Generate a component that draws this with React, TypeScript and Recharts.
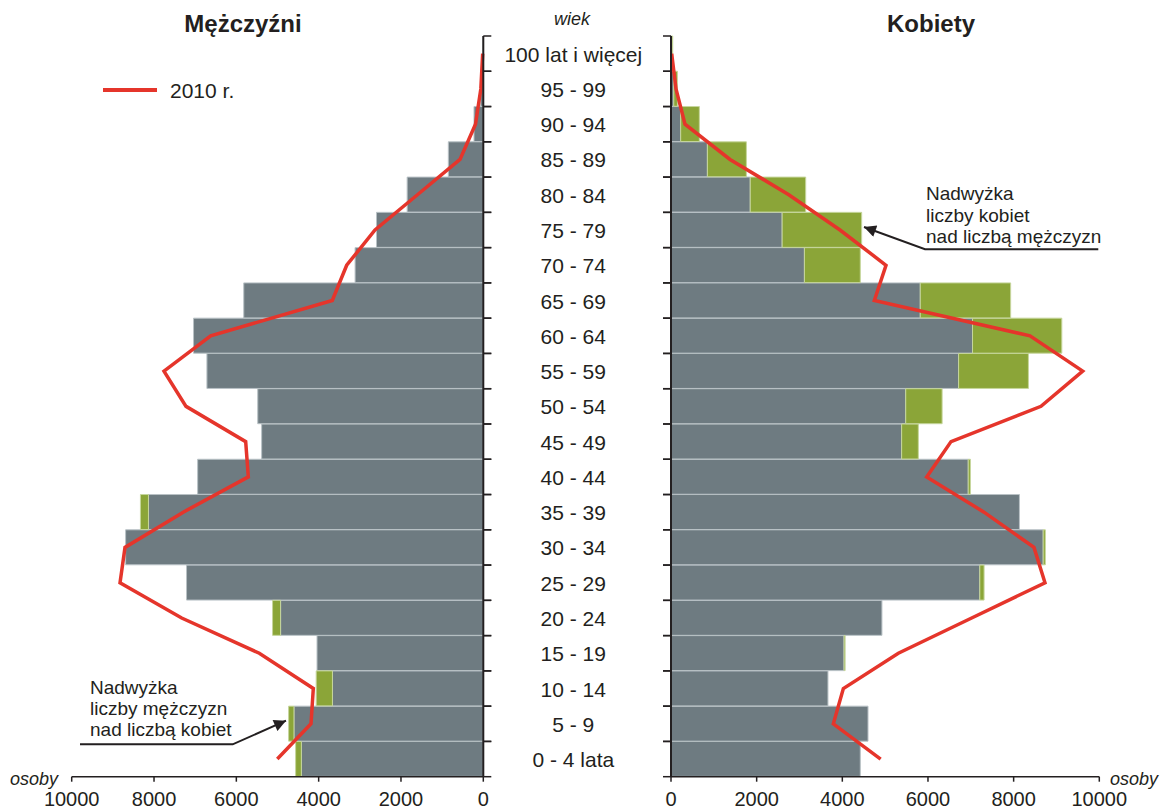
import React from 'react';
import { ComposedChart, Bar, Line, XAxis, YAxis } from 'recharts';

// age groups, youngest first
const ages = [
  '0 - 4 lata', '5 - 9', '10 - 14', '15 - 19', '20 - 24', '25 - 29', '30 - 34',
  '35 - 39', '40 - 44', '45 - 49', '50 - 54', '55 - 59', '60 - 64', '65 - 69',
  '70 - 74', '75 - 79', '80 - 84', '85 - 89', '90 - 94', '95 - 99', '100 lat i więcej',
];
const male = [4560, 4730, 4060, 4040, 5120, 7210, 8690, 8330, 6940, 5385, 5480, 6715, 7040, 5820, 3115, 2595, 1850, 850, 226, 65, 5];
const female = [4420, 4600, 3665, 4065, 4925, 7310, 8740, 8135, 6990, 5775, 6330, 8345, 9125, 7930, 4420, 4452, 3145, 1760, 662, 150, 40];
const male2010 = [5005, 4186, 4130, 5442, 7328, 8826, 8705, 7290, 5709, 5773, 7223, 7758, 6623, 3669, 3319, 2631, 1600, 566, 190, 60, 15];
const female2010 = [4895, 3790, 4024, 5308, 7020, 8732, 8475, 7308, 5970, 6538, 8639, 9612, 8382, 4748, 5020, 3946, 2750, 1378, 327, 117, 16];
const xTicks = [0, 2000, 4000, 6000, 8000, 10000];

const GRAY = '#6e7b81';
const GREEN = '#8ba538';
const RED = '#e5352b';
const INK = '#231f20';
const FONT = '"Liberation Sans", Arial, sans-serif';

// gray = smaller of the two sexes, green = surplus on the larger side
const rows = ages.map((age, i) => ({
  age,
  common: Math.min(male[i], female[i]),
  mExtra: Math.max(male[i] - female[i], 0),
  fExtra: Math.max(female[i] - male[i], 0),
  m2010: male2010[i],
  f2010: female2010[i],
}));

function AgeTick(props: any) {
  const { x, y, payload, side, showLabel } = props;
  const half = payload && payload.offset ? payload.offset : 17.6;
  const dir = side === 'right' ? 1 : -1;
  return (
    <g>
      <line x1={x} x2={x + 8 * dir} y1={y - half} y2={y - half} stroke={INK} strokeWidth={1.5} />
      <line x1={x} x2={x + 8 * dir} y1={y + half} y2={y + half} stroke={INK} strokeWidth={1.5} />
      {showLabel && (
        <text x={x + 90} y={y} dy="0.38em" textAnchor="middle" fontSize={21} fill={INK} fontFamily={FONT}>
          {payload.value}
        </text>
      )}
    </g>
  );
}

const axisStyle = { stroke: INK, strokeWidth: 1.5 };
const tickText = { fontSize: 20, fill: INK, fontFamily: FONT };

export default function App() {
  return (
    <div style={{ position: 'absolute', left: 0, top: 0, width: 1165, height: 812, background: '#fff', fontFamily: FONT }}>
      <div style={{ position: 'absolute', left: 0, top: 0 }}>
        <ComposedChart
          width={660}
          height={812}
          layout="vertical"
          data={rows}
          margin={{ top: 36, right: 175.7, bottom: 5.3, left: 71.7 }}
          barCategoryGap={0}
          barGap={0}
        >
          <XAxis type="number" domain={[0, 10000]} ticks={xTicks} reversed height={30} interval={0}
            tickSize={5} tickMargin={10} axisLine={axisStyle} tickLine={axisStyle} tick={tickText} />
          <YAxis type="category" dataKey="age" orientation="right" reversed width={1} interval={0}
            tickSize={0} tickMargin={0} tickLine={false} axisLine={{ stroke: INK, strokeWidth: 2 }}
            tick={<AgeTick side="right" showLabel />} />
          <Bar dataKey="common" stackId="m" fill={GRAY} stroke="#b9c2c6" strokeWidth={1} isAnimationActive={false} />
          <Bar dataKey="mExtra" stackId="m" fill={GREEN} stroke="#c6d69c" strokeWidth={1} isAnimationActive={false} />
          <Line dataKey="m2010" type="linear" stroke={RED} strokeWidth={3.5} dot={false} isAnimationActive={false} />
        </ComposedChart>
      </div>
      <div style={{ position: 'absolute', left: 600, top: 0 }}>
        <ComposedChart
          width={565}
          height={812}
          layout="vertical"
          data={rows}
          margin={{ top: 36, right: 65.7, bottom: 5.3, left: 70 }}
          barCategoryGap={0}
          barGap={0}
        >
          <XAxis type="number" domain={[0, 10000]} ticks={xTicks} height={30} interval={0}
            tickSize={5} tickMargin={10} axisLine={axisStyle} tickLine={axisStyle} tick={tickText} />
          <YAxis type="category" dataKey="age" orientation="left" reversed width={1} interval={0}
            tickSize={0} tickMargin={0} tickLine={false} axisLine={{ stroke: INK, strokeWidth: 2 }}
            tick={<AgeTick side="left" />} />
          <Bar dataKey="common" stackId="f" fill={GRAY} stroke="#b9c2c6" strokeWidth={1} isAnimationActive={false} />
          <Bar dataKey="fExtra" stackId="f" fill={GREEN} stroke="#c6d69c" strokeWidth={1} isAnimationActive={false} />
          <Line dataKey="f2010" type="linear" stroke={RED} strokeWidth={3.5} dot={false} isAnimationActive={false} />
        </ComposedChart>
      </div>

      <svg width={1165} height={812} style={{ position: 'absolute', left: 0, top: 0, pointerEvents: 'none' }}>
        <defs>
          <marker id="arr" viewBox="0 0 10 10" refX="10" refY="5" markerWidth="15" markerHeight="12"
            markerUnits="userSpaceOnUse" orient="auto">
            <path d="M0,0 L10,5 L0,10 z" fill={INK} />
          </marker>
        </defs>
        <g fontFamily={FONT} fill={INK}>
          <text x={243} y={32} textAnchor="middle" fontSize={24} fontWeight="bold">Mężczyźni</text>
          <text x={931} y={32} textAnchor="middle" fontSize={24} fontWeight="bold">Kobiety</text>
          <text x={572} y={25} textAnchor="middle" fontSize={18} fontStyle="italic">wiek</text>
          <text x={10} y={785} fontSize={18} fontStyle="italic">osoby</text>
          <text x={1110} y={785} fontSize={18} fontStyle="italic">osoby</text>

          <line x1={103} x2={157} y1={90} y2={90} stroke={RED} strokeWidth={4} />
          <text x={170} y={97.5} fontSize={21}>2010 r.</text>

          <text x={90} y={694} fontSize={19}>Nadwyżka</text>
          <text x={90} y={715} fontSize={19}>liczby mężczyzn</text>
          <text x={90} y={736} fontSize={19}>nad liczbą kobiet</text>
          <polyline points="80,744.3 232.7,744.3 286,720.7" fill="none" stroke={INK} strokeWidth={2} markerEnd="url(#arr)" />

          <text x={926} y={200} fontSize={19}>Nadwyżka</text>
          <text x={926} y={221.5} fontSize={19}>liczby kobiet</text>
          <text x={926} y={243} fontSize={19}>nad liczbą mężczyzn</text>
          <polyline points="1098.3,249.3 925,249.3 864,227" fill="none" stroke={INK} strokeWidth={2} markerEnd="url(#arr)" />
        </g>
      </svg>
    </div>
  );
}
